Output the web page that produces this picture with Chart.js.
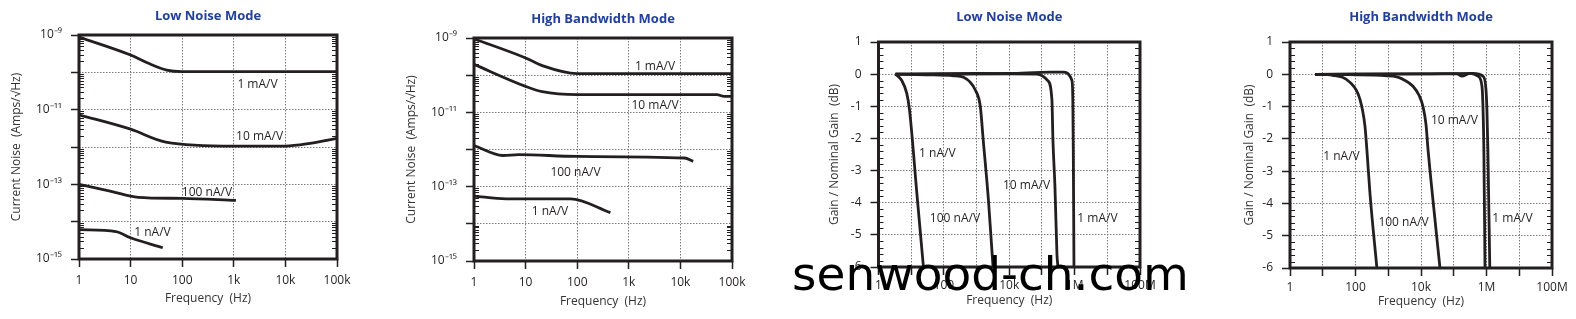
<!DOCTYPE html>
<html>
<head>
<meta charset="utf-8">
<script src="https://cdn.jsdelivr.net/npm/chart.js@4.4.1/dist/chart.umd.min.js"></script>
<style>
html,body{margin:0;padding:0;background:#fff;}
#wrap{position:relative;width:1576px;height:319px;overflow:hidden;background:#fff;}
#wrap canvas{position:absolute;top:0;}
#wm{position:absolute;left:792px;top:250px;font-family:'DejaVu Sans';font-size:47px;line-height:47px;color:#000;white-space:nowrap;z-index:5;}
</style>
</head>
<body>
<div id="wrap">
  <canvas id="c1" width="395" height="319" style="left:0px"></canvas>
  <canvas id="c2" width="395" height="319" style="left:395px"></canvas>
  <canvas id="c3" width="395" height="319" style="left:790px"></canvas>
  <canvas id="c4" width="391" height="319" style="left:1185px"></canvas>
  <div id="wm">senwood-ch.com</div>
</div>
<script>
// ---------------- axis ticks ----------------
const noiseFreqTicks = [1, 10, 100, 1000, 10000, 100000];
const noiseFreqLabels = ['1', '10', '100', '1k', '10k', '100k'];
const noiseDecadeTicks = [1e-15, 1e-14, 1e-13, 1e-12, 1e-11, 1e-10, 1e-9];
const noiseDecadeLabels = ['10⁻¹⁵', '', '10⁻¹³', '', '10⁻¹¹', '', '10⁻⁹'];
const gainFreqTicks = [1, 10, 100, 1e3, 1e4, 1e5, 1e6, 1e7, 1e8];
const gainFreqLabels = ['1', '', '100', '', '10k', '', '1M', '', '100M'];
const gainDbTicks = [-6, -5, -4, -3, -2, -1, 0, 1];

const panelTitles = ['Low Noise Mode', 'High Bandwidth Mode', 'Low Noise Mode', 'High Bandwidth Mode'];
const seriesNames = ['1 mA/V', '10 mA/V', '100 nA/V', '1 nA/V'];

// ---------------- Low Noise Mode : current noise ----------------
const lnN_1mA_f = [1, 10, 21, 50, 100, 100000];
const lnN_1mA_v = [8.8e-10, 2.9e-10, 1.8e-10, 1.15e-10, 1.05e-10, 1.05e-10];
const lnN_10mA_f = [1, 10, 48, 1000, 10000, 30000, 100000];
const lnN_10mA_v = [7.3e-12, 3.0e-12, 1.36e-12, 1.06e-12, 1.06e-12, 1.25e-12, 1.7e-12];
const lnN_100nA_f = [1, 4.2, 14, 100, 1100];
const lnN_100nA_v = [1.0e-13, 6.5e-14, 4.5e-14, 4.2e-14, 3.7e-14];
const lnN_1nA_f = [1, 5.2, 10, 42];
const lnN_1nA_v = [6.1e-15, 5.4e-15, 3.7e-15, 2.0e-15];

// ---------------- High Bandwidth Mode : current noise ----------------
const hbN_1mA_f = [1, 10, 21, 100, 100000];
const hbN_1mA_v = [9.5e-10, 2.9e-10, 1.8e-10, 1.1e-10, 1.1e-10];
const hbN_10mA_f = [1, 10, 21, 100, 51000, 70000, 100000];
const hbN_10mA_v = [1.95e-10, 5.0e-11, 3.6e-11, 3.0e-11, 3.0e-11, 2.7e-11, 2.7e-11];
const hbN_100nA_f = [1, 3.6, 7.4, 100, 12000, 17700];
const hbN_100nA_v = [1.28e-12, 6.9e-13, 7.3e-13, 6.5e-13, 5.9e-13, 4.8e-13];
const hbN_1nA_f = [1, 4.2, 74, 440];
const hbN_1nA_v = [5.6e-14, 4.7e-14, 4.7e-14, 2.0e-14];

// ---------------- Low Noise Mode : gain ----------------
const lnG_1mA_f = [3.3, 10000, 180000, 437000, 830000, 880000, 910000, 955000];
const lnG_1mA_v = [0, 0.02, 0.06, 0.06, -0.2, -0.8, -2.37, -6];
const lnG_10mA_f = [3.3, 1000, 70000, 151000, 202000, 217000, 250000, 288000, 309000];
const lnG_10mA_v = [0, 0.02, 0, -0.2, -0.8, -2.05, -3.5, -5.6, -6];
const lnG_100nA_f = [3.3, 30, 200, 400, 920, 1300, 1600, 2300, 3000, 3200];
const lnG_100nA_v = [0, -0.02, -0.05, -0.1, -0.5, -1.0, -2.05, -3.9, -5.6, -6];
const lnG_1nA_f = [3.3, 5.1, 7.3, 8.9, 15, 23.7];
const lnG_1nA_v = [0, -0.19, -0.59, -1.12, -3.74, -6];

// ---------------- High Bandwidth Mode : gain ----------------
const hbG_1mA_f = [5.8, 10000, 389000, 780000, 960000, 1030000, 1100000, 1260000];
const hbG_1mA_v = [0, 0.01, 0.03, -0.06, -0.45, -1.1, -2.3, -6];
const hbG_10mA_f = [5.8, 10000, 126000, 178000, 316000, 550000, 727000, 780000, 830000, 900000];
const hbG_10mA_v = [0, 0.01, 0.01, -0.06, 0.03, -0.06, -0.37, -1, -2.3, -6];
const hbG_100nA_f = [5.8, 1400, 3250, 5700, 8700, 11500, 14200, 16300, 23200, 38000];
const hbG_100nA_v = [0, -0.06, -0.19, -0.37, -0.65, -1.0, -1.55, -2.3, -3.9, -6];
const hbG_1nA_f = [5.8, 20, 68, 137, 194, 225, 277, 450];
const hbG_1nA_v = [0, -0.03, -0.25, -0.78, -1.6, -2.4, -3.7, -6];

// ---------------- curve label anchors (data units) ----------------
const lnN_labelF = [2880, 3160, 302, 26.6];
const lnN_labelV = [4.6e-11, 1.87e-12, 6.0e-14, 5.1e-15];
const hbN_labelF = [3220, 3220, 92.7, 29.7];
const hbN_labelV = [1.66e-10, 1.48e-11, 2.34e-13, 2.2e-14];
const lnG_labelF = [5.0e6, 33700, 218, 63];
const lnG_labelV = [-4.49, -3.46, -4.49, -2.46];
const hbG_labelF = [6.2e6, 105000, 2920, 37.4];
const hbG_labelV = [-4.46, -1.42, -4.58, -2.54];

// ---------------- drawing ----------------
const FONT = "'Open Sans', 'Liberation Sans', sans-serif";
const INK = '#231f20';
const TITLE_BLUE = '#22409a';
const FS = 12;

function pts(f, v) { return f.map((x, i) => ({ x: x, y: v[i] })); }

function logMinor(lo, hi) {
  const out = [];
  for (let n = lo; n < hi; n++) for (let k = 2; k <= 9; k++) out.push(k * Math.pow(10, n));
  return out;
}
function linMinor(lo, hi, step) {
  const out = [];
  const n = Math.round((hi - lo) / step);
  for (let i = 0; i <= n; i++) {
    const v = lo + i * step;
    if (Math.abs(v - Math.round(v)) > 1e-6) out.push(v);
  }
  return out;
}

const decor = {
  id: 'decor',
  afterDatasetsDraw(chart, args, o) {
    const { ctx, chartArea: a, scales } = chart;
    const ys = scales.y, xs = scales.x;
    ctx.save();
    ctx.strokeStyle = INK;
    ctx.lineWidth = 1;
    ctx.beginPath();
    for (const v of o.minor) {
      const py = Math.round(ys.getPixelForValue(v)) + 0.5;
      ctx.moveTo(a.left, py); ctx.lineTo(a.left + 5, py);
      ctx.moveTo(a.right - 5, py); ctx.lineTo(a.right, py);
    }
    ctx.stroke();
    ctx.lineWidth = 3;
    ctx.strokeRect(a.left, a.top, a.right - a.left, a.bottom - a.top);
    ctx.fillStyle = INK;
    ctx.font = FS + 'px ' + FONT;
    ctx.textAlign = 'center';
    ctx.textBaseline = 'middle';
    o.labelF.forEach((f, i) => {
      ctx.fillText(seriesNames[i], xs.getPixelForValue(f), ys.getPixelForValue(o.labelV[i]));
    });
    ctx.fillStyle = TITLE_BLUE;
    ctx.font = 'bold 13px ' + FONT;
    ctx.fillText(o.title, (a.left + a.right) / 2, o.titleY);
    ctx.restore();
  }
};

function makePanel(p) {
  const canvas = document.getElementById(p.id);
  const H = canvas.height, W = canvas.width;
  const datasets = p.series.map(s => ({
    data: pts(s[0], s[1]),
    borderColor: INK,
    borderWidth: 2.8,
    pointRadius: 0,
    fill: false,
    cubicInterpolationMode: 'monotone',
    borderJoinStyle: 'round'
  }));
  new Chart(canvas, {
    type: 'line',
    data: { datasets: datasets },
    plugins: [decor],
    options: {
      responsive: false,
      animation: false,
      events: [],
      layout: { padding: { left: 0, top: p.area.top, right: W - p.area.right, bottom: 0 } },
      plugins: {
        legend: { display: false },
        tooltip: { enabled: false },
        title: { display: false },
        decor: { minor: p.minor, labelF: p.labelF, labelV: p.labelV, title: p.title, titleY: p.titleY }
      },
      scales: {
        x: {
          type: 'logarithmic',
          min: p.xTicks[0], max: p.xTicks[p.xTicks.length - 1],
          afterBuildTicks: s => { s.ticks = p.xTicks.map(v => ({ value: v })); },
          afterFit: s => { s.height = H - p.area.bottom; },
          ticks: { autoSkip: false, maxRotation: 0, minRotation: 0, padding: p.xPad, color: INK,
                   font: { family: FONT, size: FS }, callback: (v, i) => p.xLabels[i] },
          grid: { color: '#7a7a7a', lineWidth: 1, drawTicks: true, tickLength: 8, tickColor: INK, tickWidth: 1.5 },
          border: { display: false, dash: [1.5, 1.5] },
          title: { display: true, text: 'Frequency  (Hz)', color: '#333', font: { family: FONT, size: FS },
                   padding: { top: 0, bottom: p.xTitlePad } }
        },
        y: {
          type: p.yType,
          min: p.yTicks[0], max: p.yTicks[p.yTicks.length - 1],
          afterBuildTicks: s => { s.ticks = p.yTicks.map(v => ({ value: v })); },
          afterFit: s => { s.width = p.area.left; },
          ticks: { autoSkip: false, padding: 9, color: INK, font: { family: FONT, size: FS },
                   callback: (v, i) => p.yLabels[i] },
          grid: { color: '#7a7a7a', lineWidth: 1, drawTicks: true, tickLength: 8, tickColor: INK, tickWidth: 1.5 },
          border: { display: false, dash: [1.5, 1.5] },
          title: { display: true, text: p.yTitle, color: '#333', font: { family: FONT, size: FS },
                   padding: { top: p.yTitlePad, bottom: 0 } }
        }
      }
    }
  });
}

const gainLabels = gainDbTicks.map(v => String(v));

makePanel({
  id: 'c1', area: { left: 79, right: 337, top: 35, bottom: 259 },
  title: panelTitles[0], titleY: 16.5,
  xTicks: noiseFreqTicks, xLabels: noiseFreqLabels, xPad: 6, xTitlePad: 12.8,
  yType: 'logarithmic', yTicks: noiseDecadeTicks, yLabels: noiseDecadeLabels,
  yTitle: 'Current Noise  (Amps/√Hz)', yTitlePad: 9.5,
  minor: logMinor(-15, -9),
  series: [[lnN_1mA_f, lnN_1mA_v], [lnN_10mA_f, lnN_10mA_v], [lnN_100nA_f, lnN_100nA_v], [lnN_1nA_f, lnN_1nA_v]],
  labelF: lnN_labelF, labelV: lnN_labelV
});
makePanel({
  id: 'c2', area: { left: 79, right: 337, top: 38, bottom: 261 },
  title: panelTitles[1], titleY: 19.5,
  xTicks: noiseFreqTicks, xLabels: noiseFreqLabels, xPad: 6, xTitlePad: 9.8,
  yType: 'logarithmic', yTicks: noiseDecadeTicks, yLabels: noiseDecadeLabels,
  yTitle: 'Current Noise  (Amps/√Hz)', yTitlePad: 9.5,
  minor: logMinor(-15, -9),
  series: [[hbN_1mA_f, hbN_1mA_v], [hbN_10mA_f, hbN_10mA_v], [hbN_100nA_f, hbN_100nA_v], [hbN_1nA_f, hbN_1nA_v]],
  labelF: hbN_labelF, labelV: hbN_labelV
});
makePanel({
  id: 'c3', area: { left: 88.5, right: 350, top: 42, bottom: 267 },
  title: panelTitles[2], titleY: 17.5,
  xTicks: gainFreqTicks, xLabels: gainFreqLabels, xPad: 3, xTitlePad: 10.8,
  yType: 'linear', yTicks: gainDbTicks, yLabels: gainLabels,
  yTitle: 'Gain / Nominal Gain  (dB)', yTitlePad: 37.5,
  minor: linMinor(-6, 1, 0.2),
  series: [[lnG_1mA_f, lnG_1mA_v], [lnG_10mA_f, lnG_10mA_v], [lnG_100nA_f, lnG_100nA_v], [lnG_1nA_f, lnG_1nA_v]],
  labelF: lnG_labelF, labelV: lnG_labelV
});
makePanel({
  id: 'c4', area: { left: 105, right: 367, top: 42, bottom: 268 },
  title: panelTitles[3], titleY: 17.5,
  xTicks: gainFreqTicks, xLabels: gainFreqLabels, xPad: 4, xTitlePad: 9.8,
  yType: 'linear', yTicks: gainDbTicks, yLabels: gainLabels,
  yTitle: 'Gain / Nominal Gain  (dB)', yTitlePad: 57.5,
  minor: linMinor(-6, 1, 0.2),
  series: [[hbG_1mA_f, hbG_1mA_v], [hbG_10mA_f, hbG_10mA_v], [hbG_100nA_f, hbG_100nA_v], [hbG_1nA_f, hbG_1nA_v]],
  labelF: hbG_labelF, labelV: hbG_labelV
});
</script>
</body>
</html>
